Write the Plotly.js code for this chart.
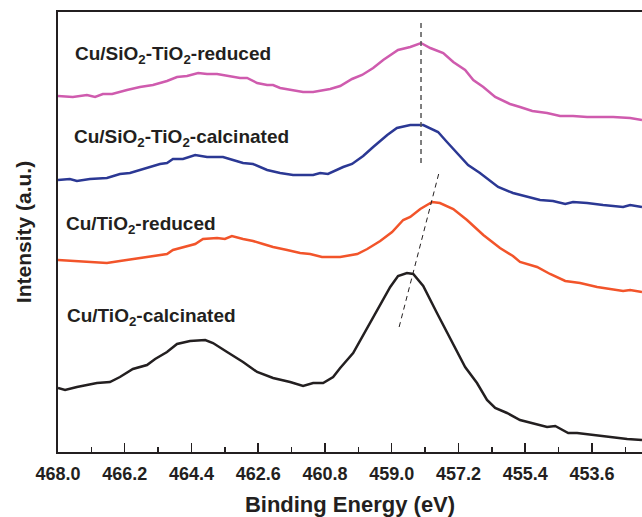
<!DOCTYPE html>
<html>
<head>
<meta charset="utf-8">
<script src="https://cdn.plot.ly/plotly-3.0.1.min.js"></script>
<style>html,body{margin:0;padding:0;background:#fff;}#chart{width:642px;height:517px;}</style>
</head>
<body>
<div id="chart"></div>
<script>
// Binding energy (eV) and intensity (a.u.)
const energySiTiRed = [468.00,467.60,467.22,467.00,466.79,466.54,466.14,465.79,465.44,465.06,464.79,464.52,464.22,463.98,463.71,463.44,463.09,462.90,462.63,462.36,462.20,462.01,461.66,461.39,461.12,460.93,460.66,460.39,460.07,459.80,459.50,459.23,458.83,458.50,458.21,457.96,457.61,457.34,457.02,456.80,456.53,456.21,455.81,455.54,455.21,454.81,454.46,454.11,453.73,453.30,453.03,452.57,452.25];
const intSiTiRed    = [356,355,357,355,358,358,362,365,367,371,375,376,379,378,378,376,374,374,369,367,367,364,362,360,360,361,363,366,373,377,384,392,402,405,409,404,399,390,382,372,365,355,348,345,341,339,336,336,335,335,335,334,332];

const energySiTiCal = [468.00,467.68,467.49,467.14,466.68,466.33,466.06,465.79,465.60,465.25,465.06,464.90,464.63,464.30,463.98,463.55,463.28,463.01,462.74,462.36,462.01,461.66,461.12,460.93,460.72,460.31,460.07,459.77,459.50,459.12,458.86,458.50,458.15,457.75,457.51,457.24,456.94,456.62,456.13,455.73,455.27,455.00,454.65,454.32,454.11,453.73,453.30,452.76,452.57,452.25];
const intSiTiCal    = [272,273,271,273,274,278,279,282,284,288,289,293,293,297,295,295,292,289,288,282,279,277,277,279,278,285,288,296,305,317,324,327,327,320,310,299,287,279,265,259,255,252,251,248,250,249,247,245,247,245];

const energyTiRed = [468.00,467.60,467.06,466.68,466.33,465.98,465.52,465.06,464.90,464.52,464.30,464.09,463.71,463.50,463.31,463.01,462.74,462.47,462.20,461.82,461.47,461.20,460.88,460.39,459.93,459.66,459.31,458.99,458.69,458.50,458.23,457.91,457.70,457.34,456.97,456.53,456.08,455.73,455.54,455.08,454.73,454.32,453.92,453.46,453.03,452.76,452.57,452.25];
const intTiRed    = [192,191,190,189,191,193,196,198,202,206,208,213,214,213,216,213,211,208,205,202,199,198,195,195,198,203,211,220,232,235,243,250,249,243,232,217,204,196,190,185,178,171,169,165,163,161,162,160];

const energyTiCal = [468.00,467.81,467.49,466.95,466.60,466.33,465.98,465.60,465.38,465.06,464.79,464.44,464.03,463.82,463.44,463.01,462.63,462.20,461.74,461.39,461.12,460.85,460.58,460.39,460.04,459.77,459.39,459.04,458.83,458.59,458.42,458.15,457.78,457.37,457.02,456.70,456.43,456.21,455.89,455.54,455.19,454.81,454.59,454.24,454.00,453.57,453.11,452.65,452.25];
const intTiCal    = [64,62,65,69,70,75,83,87,93,100,108,111,112,109,100,90,80,74,70,66,69,69,75,84,99,117,142,165,176,179,178,166,139,109,85,69,52,44,39,32,29,25,26,19,19,17,15,13,12];

// Peak guide lines
const guideVertE = [458.21, 458.21];
const guideVertI = [429, 285];
const guideSlantE = [458.80, 457.72];
const guideSlantI = [125, 280];

const tickValues = [468.0,466.2,464.4,462.6,460.8,459.0,457.2,455.4,453.6];
const tickLabels = tickValues.map(v => v.toFixed(1));
const minorTickValues = [467.1,465.3,463.5,461.7,459.9,458.1,456.3,454.5,452.7];

const seriesNames = ['Cu/SiO<sub>2</sub>-TiO<sub>2</sub>-reduced','Cu/SiO<sub>2</sub>-TiO<sub>2</sub>-calcinated','Cu/TiO<sub>2</sub>-reduced','Cu/TiO<sub>2</sub>-calcinated'];
const seriesColors = ['#CF5BAE','#2B3894','#F2542A','#231F20'];

const FONT = 'Arial, "Liberation Sans", Helvetica, sans-serif';

const traces = [
  {x: energySiTiRed, y: intSiTiRed, mode:'lines', line:{color:seriesColors[0], width:2.5}},
  {x: energySiTiCal, y: intSiTiCal, mode:'lines', line:{color:seriesColors[1], width:2.5}},
  {x: energyTiRed, y: intTiRed, mode:'lines', line:{color:seriesColors[2], width:2.5}},
  {x: energyTiCal, y: intTiCal, mode:'lines', line:{color:seriesColors[3], width:2.5}},
  {x: guideVertE, y: guideVertI, mode:'lines', line:{color:'#555555', width:1.5, dash:'5px,4px'}},
  {x: guideSlantE, y: guideSlantI, mode:'lines', line:{color:'#231F20', width:1, dash:'5px,4px'}}
];

const labelPos = [
  {x:467.60, y:397},
  {x:467.62, y:314},
  {x:467.85, y:227},
  {x:467.81, y:135}
];

const annotations = seriesNames.map((t,i) => ({
  text: t, x: labelPos[i].x, y: labelPos[i].y, xref:'x', yref:'y',
  xanchor:'left', yanchor:'middle', showarrow:false,
  font:{family:FONT, size:19, color:'#231F20', weight:700}
}));

const layout = {
  width: 642, height: 517,
  margin: {l:58, r:0, t:12, b:65},
  paper_bgcolor:'#fff', plot_bgcolor:'#fff',
  showlegend:false,
  font:{family:FONT, color:'#231F20'},
  xaxis: {
    range:[468.0, 452.25], showgrid:false, zeroline:false,
    showline:true, linecolor:'#231F20', linewidth:2, mirror:true,
    ticks:'inside', ticklen:9, tickwidth:1.5, tickcolor:'#231F20',
    tickvals: tickValues, ticktext: tickLabels,
    minor:{tickvals: minorTickValues, ticks:'inside', ticklen:5, tickwidth:1.5, tickcolor:'#231F20', showgrid:false},
    tickfont:{family:FONT, size:18, color:'#231F20', weight:700},
    ticklabelstandoff: 4,
    title:{text:'Binding Energy (eV)', font:{family:FONT, size:22, color:'#231F20', weight:700}, standoff:14}
  },
  yaxis: {
    range:[0,440], showgrid:false, zeroline:false,
    showline:true, linecolor:'#231F20', linewidth:2,
    ticks:'', showticklabels:false,
    title:{text:'Intensity (a.u.)', font:{family:FONT, size:21, color:'#231F20', weight:700}, standoff:19}
  },
  annotations: annotations
};

Plotly.newPlot('chart', traces, layout, {displayModeBar:false, staticPlot:true});
</script>
</body>
</html>
